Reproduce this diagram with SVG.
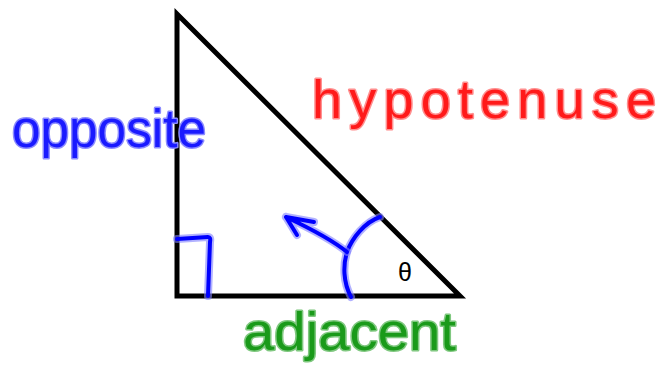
<svg xmlns="http://www.w3.org/2000/svg" width="659" height="377" viewBox="0 0 659 377">
<style>
.tri{fill:none;stroke:#000;stroke-width:5;stroke-linejoin:miter}
.halo{fill:none;stroke:#7f7fff;stroke-width:8;stroke-linecap:round;stroke-linejoin:round;opacity:0.6}
.ink{fill:none;stroke:#0000ff;stroke-width:4;stroke-linecap:round;stroke-linejoin:round}
.lbl{font-family:"Liberation Sans","DejaVu Sans",sans-serif;paint-order:stroke;stroke-width:3;stroke-linejoin:round}
.blue{fill:#1a1aff;stroke:#8c8cff}
.red{fill:#ff1a1a;stroke:#ff9090}
.green{fill:#1a9a1a;stroke:#80c880}
</style>
<rect width="659" height="377" fill="#fff"/>
<g id="triangle">
<polygon class="tri" points="177,14 177,296 460,296"/>
</g>
<g id="right-angle">
<path class="halo" d="M177,239 L208,237 Q211,237 210,242 L208,296"/>
<path class="ink" d="M177,239 L208,237 Q211,237 210,242 L208,296"/>
</g>
<g id="connectors">
<path class="halo" d="M351,297 C343,282 343,265 347,252 C352,238 365,222 380,217"/>
<path class="ink" d="M351,297 C343,282 343,265 347,252 C352,238 365,222 380,217"/>
<path class="halo" d="M347,252 C330,238 305,226 286,217 M286,217 L314,222 M286,217 L297,235"/>
<path class="ink" d="M347,252 C330,238 305,226 286,217 M286,217 L314,222 M286,217 L297,235"/>
</g>
<g id="theta">
<text x="405" y="281" text-anchor="middle" font-family="Liberation Sans, sans-serif" font-size="25" fill="#000">θ</text>
</g>
<g id="opposite">
<text class="lbl blue" x="12" y="147" font-size="54" textLength="194" lengthAdjust="spacingAndGlyphs">opposite</text>
</g>
<g id="hypotenuse">
<text class="lbl red" x="312" y="118" font-size="54" textLength="344" lengthAdjust="spacing">hypotenuse</text>
</g>
<g id="adjacent">
<text class="lbl green" x="243" y="350" font-size="54" textLength="213" lengthAdjust="spacingAndGlyphs">adjacent</text>
</g>
</svg>
